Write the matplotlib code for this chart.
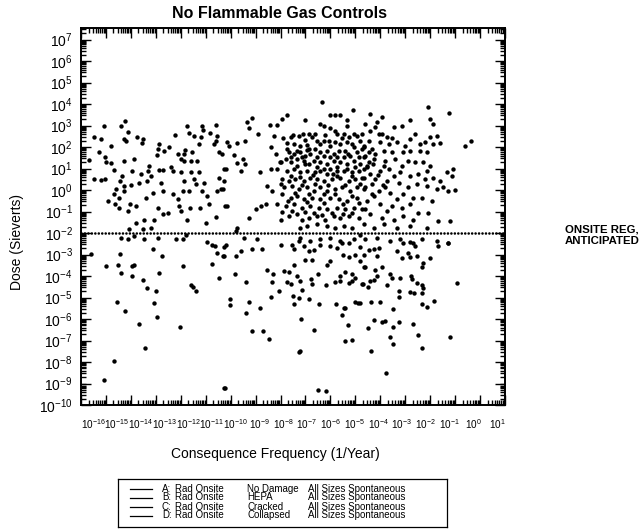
import numpy as np
import matplotlib.pyplot as plt
from matplotlib.ticker import LogLocator, NullFormatter, NullLocator

plt.rcParams['font.family'] = ['Liberation Sans', 'DejaVu Sans']
plt.rcParams['mathtext.fontset'] = 'custom'
plt.rcParams['mathtext.rm'] = 'Liberation Sans'
plt.rcParams['mathtext.it'] = 'Liberation Sans:italic'
plt.rcParams['mathtext.bf'] = 'Liberation Sans:bold'

# points as (log10 frequency, log10 dose)
upper_left_pts = [
    (-15.09, 3.0), (-14.4, 2.96), (-14.23, 3.19), (-15.47, 2.46), (-15.2, 2.38),
    (-14.27, 2.38), (-14.2, 2.27), (-14.13, 2.69), (-13.76, 2.46), (-13.53, 2.38),
    (-13.56, 2.18), (-14.8, 2.07), (-15.27, 1.75), (-15.04, 1.52), (-15.0, 1.29),
    (-14.8, 1.24), (-14.27, 1.33), (-15.67, 1.4), (-13.87, 1.44), (-14.69, 0.93),
    (-13.97, 0.9), (-15.47, 0.5), (-15.2, 0.46), (-15.04, 0.5), (-14.36, 0.65),
    (-14.43, 0.43), (-14.6, 0.04), (-14.67, -0.2), (-14.29, 0.19), (-14.27, -0.04),
    (-14.0, 0.24), (-14.91, -0.51), (-14.47, -0.35), (-14.63, -0.63), (-14.47, -0.85),
    (-14.03, -0.66), (-13.8, -0.74), (-14.13, -0.98), (-13.6, 0.77), (-13.33, 0.9),
    (-13.27, 1.13), (-13.2, 0.66), (-13.67, 0.33), (-13.36, 0.43), (-13.13, -0.12),
    (-13.4, -0.35), (-12.93, -0.82), (-13.8, -1.55), (-14.07, -1.79), (-13.53, -1.83),
    (-13.2, -1.76), (-13.47, -1.37), (-13.07, -1.37), (-12.87, 2.14), (-12.91, 1.91),
    (-12.96, 1.64), (-12.67, 1.83), (-12.47, 1.99), (-12.73, 0.94), (-12.87, 0.93),
    (-12.8, 0.35), (-12.73, -0.04), (-12.4, 1.05), (-12.33, 0.9), (-12.24, 2.56),
    (-12.0, 1.44), (-11.89, 1.36), (-11.87, 1.68), (-11.84, 1.86), (-11.53, 1.75),
    (-11.6, 1.36), (-11.33, 1.36), (-11.47, 2.53), (-11.67, 2.66), (-11.73, 2.96),
    (-11.13, 3.0), (-11.09, 2.8), (-11.27, 2.14), (-11.2, 2.46), (-12.13, 1.68),
    (-12.0, 0.82), (-11.87, 0.43), (-11.93, -0.04), (-11.6, 0.82), (-11.27, 0.86),
    (-11.67, -0.04), (-11.47, 0.5), (-11.4, 0.27), (-11.07, 0.35), (-11.13, -0.04),
    (-12.33, -0.2), (-12.13, -0.43), (-12.07, -0.74), (-12.0, -0.98), (-11.63, -0.82),
    (-11.23, -0.82), (-10.87, -0.66), (-10.93, -0.27), (-10.53, -0.04), (-10.4, 0.04),
    (-10.47, 0.58), (-10.27, 0.97), (-10.67, 2.14), (-10.6, 2.3), (-10.53, 2.53),
    (-10.6, 3.03), (-10.83, 2.64), (-10.47, 1.75), (-11.76, -1.37), (-11.0, -1.52),
    (-10.6, -1.26), (-12.51, -1.05), (-12.73, -1.1), (-14.4, -2.22), (-14.13, -2.3),
    (-13.87, -2.15), (-13.47, -2.3), (-12.93, -2.22), (-12.2, -2.3), (-11.93, -2.3),
    (-11.8, -2.1), (-10.24, -0.74),
]

lower_left_pts = [
    (-15.6, -2.98), (-15.0, -3.51), (-14.43, -2.98), (-14.51, -3.48), (-14.4, -3.84),
    (-13.97, -3.51), (-13.89, -3.48), (-13.97, -3.98), (-13.13, -2.73), (-12.76, -3.09),
    (-13.51, -4.18), (-13.37, -4.57), (-12.89, -3.87), (-13.0, -4.69), (-14.56, -5.22),
    (-14.23, -5.63), (-13.09, -5.27), (-12.96, -5.9), (-13.67, -6.25), (-12.05, -6.39),
    (-13.43, -7.35), (-14.67, -7.97), (-15.09, -8.83), (-11.93, -3.51), (-11.6, -4.44),
    (-11.49, -4.51), (-11.4, -4.69), (-10.93, -2.42), (-10.73, -2.54), (-10.63, -2.62),
    (-10.56, -2.93), (-10.27, -2.67), (-10.29, -3.09), (-10.76, -3.45), (-10.47, -4.1),
    (-10.27, -9.2),
]

upper_mid_pts = [
    (-9.13, 3.36), (-9.36, 3.16), (-9.27, 2.89), (-8.43, 3.05), (-8.16, 3.05),
    (-7.93, 3.31), (-7.73, 3.47), (-8.89, 2.61), (-8.27, 2.53), (-10.13, 2.22),
    (-10.07, 2.07), (-9.73, 2.17), (-9.44, 2.27), (-8.4, 1.99), (-10.33, 1.68),
    (-9.87, 1.64), (-9.49, 1.44), (-9.44, 1.21), (-9.76, 1.24), (-9.6, 0.9),
    (-10.2, 0.97), (-8.83, 0.85), (-8.37, 0.96), (-8.03, 1.29), (-7.0, 3.24),
    (-6.33, 4.09), (-6.0, 3.47), (-5.8, 3.47), (-5.63, 3.47), (-5.09, 3.74),
    (-5.33, 3.27), (-5.33, 3.0), (-6.4, 3.08), (-6.27, 2.96), (-6.0, 2.89),
    (-5.8, 2.77), (-5.73, 2.61), (-7.49, 2.58), (-7.27, 2.53), (-7.09, 2.61),
    (-6.87, 2.61), (-6.6, 2.61), (-6.73, 2.46), (-7.76, 2.17), (-7.47, 2.14),
    (-7.2, 2.07), (-6.93, 2.11), (-6.53, 2.3), (-6.4, 2.14), (-6.27, 2.3),
    (-5.47, 2.61), (-5.27, 2.46), (-5.07, 2.61), (-4.93, 2.53), (-6.07, 2.3),
    (-5.8, 2.22), (-5.6, 2.14), (-5.33, 2.22), (-5.13, 2.14), (-4.8, 2.3),
    (-4.67, 2.07), (-7.67, 1.75), (-7.47, 1.68), (-7.2, 1.75), (-7.0, 1.6),
    (-6.8, 1.68), (-6.6, 1.91), (-6.4, 1.75), (-6.13, 1.83), (-5.87, 1.68),
    (-5.67, 1.83), (-5.4, 1.83), (-5.2, 1.6), (-4.93, 1.75), (-4.73, 1.91),
    (-8.0, 1.29), (-7.8, 1.44), (-7.6, 1.29), (-7.33, 1.44), (-7.07, 1.36),
    (-6.87, 1.21), (-6.67, 1.36), (-6.4, 1.29), (-6.13, 1.21), (-5.87, 1.36),
    (-5.6, 1.29), (-5.33, 1.21), (-5.07, 1.36), (-4.8, 1.21), (-7.73, 0.9),
    (-7.47, 0.97), (-7.2, 0.82), (-6.93, 0.9), (-6.6, 0.82), (-6.4, 0.9),
    (-6.0, 0.97), (-5.73, 0.9), (-5.47, 0.9), (-5.13, 0.82), (-4.87, 0.9),
    (-4.67, 0.97), (-7.93, 0.5), (-7.67, 0.43), (-7.4, 0.5), (-7.07, 0.43),
    (-6.8, 0.58), (-6.53, 0.5), (-6.27, 0.43), (-5.93, 0.5), (-5.6, 0.58),
    (-5.27, 0.43), (-5.0, 0.5), (-4.73, 0.58), (-7.87, 0.12), (-7.53, 0.19),
    (-7.27, 0.04), (-6.93, 0.12), (-6.67, -0.04), (-6.4, 0.12), (-6.13, -0.04),
    (-5.8, 0.04), (-5.53, 0.12), (-5.2, -0.04), (-4.93, 0.12), (-4.67, 0.04),
    (-8.53, 0.19), (-8.33, -0.04), (-7.93, -0.2), (-7.6, -0.35), (-7.33, -0.27),
    (-7.07, -0.43), (-6.73, -0.35), (-6.4, -0.43), (-6.0, -0.35), (-5.67, -0.43),
    (-5.33, -0.51), (-4.93, -0.35), (-8.13, -0.66), (-7.8, -0.74), (-7.47, -0.66),
    (-7.13, -0.82), (-6.8, -0.74), (-6.47, -0.82), (-6.13, -0.9), (-5.73, -0.82),
    (-5.4, -0.9), (-5.07, -0.82), (-4.73, -0.9), (-8.6, -0.66), (-8.8, -0.74),
    (-9.0, -0.9), (-10.13, -0.74), (-9.27, -1.29), (-8.0, -1.37), (-7.67, -1.21),
    (-7.33, -1.13), (-7.13, -1.37), (-6.87, -1.29), (-6.53, -1.21), (-6.2, -1.37),
    (-5.87, -1.21), (-5.6, -1.29), (-5.27, -1.21), (-4.87, -1.29), (-7.2, -1.76),
    (-6.93, -1.68), (-6.53, -1.6), (-6.13, -1.68), (-5.8, -1.76), (-5.47, -1.68),
    (-5.13, -1.76), (-9.73, -1.76), (-9.8, -1.91), (-7.2, -2.22), (-6.8, -2.38),
    (-6.4, -2.3), (-6.0, -2.22), (-5.6, -2.38), (-5.07, -2.3), (-4.8, -2.07),
    (-10.2, -2.54), (-8.93, -2.3), (-9.47, -2.22), (-10.27, 0.43), (-10.29, 0.04),
    (-7.57, 1.52), (-7.13, 1.52), (-6.53, 1.52), (-6.0, 1.52), (-5.47, 1.52),
    (-4.87, 1.52), (-7.6, 0.66), (-7.2, 0.61), (-6.69, 0.71), (-6.13, 0.74),
    (-5.73, 0.66), (-5.13, 0.66), (-7.4, -0.12), (-6.87, -0.16), (-6.27, -0.2),
    (-5.8, -0.2), (-5.13, -0.27), (-7.73, 1.91), (-6.87, 1.91), (-6.0, 2.07),
    (-5.07, 1.99), (-7.33, 1.13), (-6.53, 1.08), (-5.73, 1.08), (-5.0, 1.08),
    (-7.53, -0.98), (-6.67, -1.05), (-5.93, -1.05), (-5.13, -1.05),
    (-7.9, 2.4), (-7.6, 2.45), (-7.0, 2.35), (-6.2, 2.55), (-5.55, 2.4),
    (-8.2, 1.7), (-7.35, 1.8), (-6.95, 1.85), (-6.25, 1.6), (-5.75, 1.55),
    (-5.3, 1.7), (-4.6, 1.6), (-8.15, 1.0), (-7.0, 1.2), (-6.25, 1.0),
    (-5.9, 0.75), (-5.35, 1.0), (-4.55, 1.1), (-8.0, 0.3), (-7.15, 0.25),
    (-6.6, 0.3), (-6.1, 0.25), (-5.4, 0.25), (-4.8, 0.3), (-7.7, -0.5),
    (-6.95, -0.55), (-6.25, -0.6), (-5.5, -0.65), (-4.85, -0.6), (-7.95, -1.0),
    (-7.0, -1.0), (-6.35, -1.15), (-5.5, -1.1),
]

lower_mid_pts = [
    (-10.27, -3.09), (-9.8, -3.09), (-9.6, -2.82), (-9.83, -3.91), (-9.13, -2.73),
    (-8.73, -2.73), (-8.0, -2.57), (-7.56, -2.54), (-7.47, -2.73), (-7.27, -2.39),
    (-7.07, -2.62), (-6.87, -2.82), (-6.67, -2.77), (-6.4, -2.54), (-6.0, -2.62),
    (-5.73, -2.7), (-5.53, -2.46), (-5.27, -2.46), (-8.53, -3.71), (-8.29, -3.91),
    (-7.87, -3.76), (-7.67, -3.82), (-7.44, -3.48), (-7.0, -3.24), (-6.73, -3.24),
    (-6.51, -3.9), (-6.13, -3.48), (-6.03, -3.32), (-5.49, -3.01), (-5.27, -3.13),
    (-5.0, -3.01), (-4.8, -3.32), (-4.67, -3.56), (-5.4, -3.79), (-5.13, -3.9),
    (-5.0, -4.07), (-5.6, -4.02), (-9.4, -4.3), (-8.33, -4.29), (-8.07, -4.69),
    (-7.76, -4.26), (-7.6, -4.38), (-7.33, -4.02), (-7.2, -4.23), (-7.13, -4.65),
    (-6.77, -4.13), (-6.73, -4.38), (-6.16, -4.44), (-5.8, -4.29), (-5.6, -4.23),
    (-5.27, -4.34), (-5.13, -4.23), (-4.69, -4.38), (-10.03, -5.07), (-10.03, -5.35),
    (-9.27, -5.19), (-8.4, -4.96), (-7.49, -4.91), (-7.27, -5.01), (-7.44, -5.3),
    (-6.87, -5.07), (-6.47, -5.32), (-5.76, -5.3), (-5.47, -5.5), (-5.4, -5.47),
    (-5.0, -5.19), (-4.91, -5.27), (-9.4, -5.74), (-8.83, -5.5), (-7.17, -6.0),
    (-5.53, -5.82), (-5.29, -6.29), (-9.13, -6.57), (-8.71, -6.55), (-8.47, -6.94),
    (-6.67, -6.49), (-5.4, -7.03), (-5.13, -6.96), (-7.2, -7.49), (-7.27, -7.53),
    (-10.24, -9.2), (-6.51, -9.3), (-6.16, -9.37),
]

upper_right_pts = [
    (-2.07, 3.86), (-1.23, 3.58), (-4.4, 3.55), (-3.93, 3.42), (-4.13, 3.16),
    (-4.6, 3.08), (-3.47, 2.92), (-3.13, 3.0), (-2.8, 3.24), (-2.0, 3.31),
    (-1.87, 3.08), (-4.73, 2.61), (-4.4, 2.77), (-4.07, 2.61), (-3.73, 2.46),
    (-4.0, 2.22), (-3.33, 2.22), (-2.8, 2.38), (-2.6, 2.61), (-2.4, 2.14),
    (-2.2, 2.22), (-2.0, 2.46), (-1.73, 2.53), (-1.89, 2.14), (-1.6, 2.17),
    (-4.67, 1.99), (-4.33, 1.91), (-3.87, 1.83), (-3.53, 1.75), (-3.07, 1.75),
    (-2.8, 1.83), (-2.4, 1.83), (-2.13, 1.75), (-0.6, 2.07), (-0.37, 2.27),
    (-4.67, 1.52), (-4.27, 1.44), (-3.8, 1.36), (-3.4, 1.44), (-2.87, 1.36),
    (-2.6, 1.29), (-2.27, 1.29), (-2.0, 1.13), (-2.13, 0.9), (-4.53, 1.05),
    (-4.0, 0.9), (-3.67, 0.97), (-3.2, 0.82), (-2.8, 0.66), (-2.47, 0.74),
    (-2.2, 0.5), (-1.87, 0.58), (-1.6, 0.43), (-1.33, 0.82), (-1.07, 0.97),
    (-1.13, 0.66), (-4.67, 0.58), (-4.2, 0.5), (-3.73, 0.43), (-3.27, 0.35),
    (-2.87, 0.12), (-2.53, 0.27), (-2.13, 0.19), (-1.73, 0.04), (-1.47, 0.12),
    (-1.27, -0.04), (-1.0, 0.01), (-4.6, 0.12), (-4.07, -0.04), (-3.6, -0.12),
    (-3.07, -0.2), (-2.67, -0.35), (-2.33, -0.35), (-1.93, -0.51), (-4.53, -0.51),
    (-4.0, -0.66), (-3.53, -0.74), (-3.13, -0.82), (-2.8, -0.66), (-2.47, -1.05),
    (-2.07, -1.05), (-4.4, -1.13), (-3.93, -1.29), (-3.47, -1.37), (-3.07, -1.21),
    (-2.67, -1.37), (-4.67, -1.6), (-4.27, -1.76), (-3.87, -1.6), (-3.33, -1.76),
    (-2.8, -1.68), (-2.13, -1.76), (-1.67, -1.44), (-1.2, -1.44), (-4.6, -2.3),
    (-4.13, -2.22), (-3.6, -2.38), (-3.2, -2.3), (-2.67, -2.46), (-2.33, -2.3),
    (-1.73, -2.38), (-1.27, -2.46), (-4.47, 2.3), (-4.2, 1.68), (-4.47, 1.29),
    (-3.87, 1.13), (-4.4, 0.74), (-3.47, 0.66), (-4.33, 0.27), (-3.8, 0.12),
    (-4.27, -0.27), (-3.33, -0.43), (-3.73, -0.98), (-4.6, -0.9), (-3.13, 1.13),
    (-3.0, 2.07), (-3.67, 2.14), (-4.2, 2.92), (-4.45, 1.75), (-4.3, 1.2),
    (-4.1, 0.7), (-3.9, 0.25), (-4.35, -0.2), (-3.95, 2.6), (-3.55, 2.4),
]

lower_right_pts = [
    (-4.8, -2.67), (-4.47, -2.77), (-4.27, -2.73), (-4.07, -2.7), (-4.67, -3.01),
    (-4.13, -3.09), (-4.6, -3.56), (-4.2, -3.71), (-3.93, -3.56), (-3.33, -2.85),
    (-3.13, -3.17), (-2.8, -3.13), (-2.87, -2.93), (-2.53, -3.09), (-2.27, -3.4),
    (-2.33, -3.56), (-2.0, -3.17), (-3.07, -2.46), (-2.8, -2.42), (-2.6, -2.62),
    (-1.67, -2.62), (-1.27, -2.46), (-4.73, -4.38), (-4.51, -4.49), (-4.4, -4.23),
    (-4.27, -4.18), (-4.13, -4.02), (-3.73, -4.44), (-3.53, -4.1), (-3.6, -3.91),
    (-3.2, -4.1), (-2.77, -4.02), (-2.73, -4.13), (-2.53, -4.34), (-2.33, -4.41),
    (-2.27, -4.57), (-2.33, -4.77), (-3.27, -4.69), (-3.23, -4.96), (-2.8, -4.76),
    (-2.64, -4.8), (-0.93, -4.34), (-4.8, -5.27), (-4.36, -5.19), (-4.03, -5.19),
    (-3.49, -5.54), (-2.33, -5.3), (-2.13, -5.43), (-1.84, -5.16), (-4.24, -6.05),
    (-3.93, -6.13), (-3.8, -6.08), (-3.27, -6.16), (-4.51, -6.44), (-3.51, -6.36),
    (-2.67, -6.25), (-2.47, -6.75), (-3.6, -6.83), (-3.51, -7.14), (-2.33, -7.35),
    (-1.2, -6.83), (-4.37, -7.49), (-3.76, -8.52),
]

onsite_reg_dose = 1e-2
x_label_exps = list(range(-16, 2))
y_label_exps = list(range(-10, 8))
legend_rows = [
    ('A:', 'Rad Onsite', 'No Damage', 'All Sizes Spontaneous'),
    ('B:', 'Rad Onsite', 'HEPA', 'All Sizes Spontaneous'),
    ('C:', 'Rad Onsite', 'Cracked', 'All Sizes Spontaneous'),
    ('D:', 'Rad Onsite', 'Collapsed', 'All Sizes Spontaneous'),
]

pts = np.array(upper_left_pts + lower_left_pts + upper_mid_pts + lower_mid_pts
               + upper_right_pts + lower_right_pts)
freq = 10.0 ** pts[:, 0]
dose = 10.0 ** pts[:, 1]

fig = plt.figure(figsize=(6.42, 5.31), dpi=100)
ax = fig.add_axes([81 / 642, 1 - 405 / 531, 424 / 642, 377 / 531])
ax.set_xscale('log')
ax.set_yscale('log')
ax.set_xlim(1e-16, 1e1)
ax.set_ylim(1e-10, 10 ** 7.54)

ax.axhline(onsite_reg_dose, color='black', lw=1.9, ls=(0, (0.01, 1.3)),
           dash_capstyle='round', zorder=2)
ax.scatter(freq, dose, s=10, color='black', linewidths=0, zorder=3)

ax.xaxis.set_major_locator(LogLocator(base=10, numticks=40))
ax.xaxis.set_minor_locator(LogLocator(base=10, subs=np.arange(2, 10), numticks=40))
ax.xaxis.set_major_formatter(NullFormatter())
ax.xaxis.set_minor_formatter(NullFormatter())
ax.set_yticks(10.0 ** np.array(y_label_exps), [rf'$10^{{{e}}}$' for e in y_label_exps])
ax.yaxis.set_minor_locator(LogLocator(base=10, subs=np.arange(2, 10), numticks=40))
ax.yaxis.set_minor_formatter(NullFormatter())
ax.tick_params(which='both', direction='in', top=True, right=True, width=1.0)
ax.tick_params(which='major', length=7)
ax.tick_params(which='minor', length=3.5)
ax.tick_params(axis='y', labelsize=10, pad=6)
for sp in ax.spines.values():
    sp.set_linewidth(1.4)

# crowded frequency labels, spread a little tighter than the decade ticks
sec = ax.secondary_xaxis('bottom')
sec.set_xticks(10.0 ** np.linspace(-15.52, 0.68, len(x_label_exps)),
               [rf'$10^{{{e}}}$' for e in x_label_exps])
sec.xaxis.set_minor_locator(NullLocator())
sec.tick_params(which='both', length=0, labelsize=7.2, pad=9)
sec.spines['bottom'].set_visible(False)

fig.text(279 / 642, 1 - 14 / 531, 'No Flammable Gas Controls', ha='center', va='center',
         fontsize=11.5, fontweight='bold')
fig.text(275 / 642, 1 - 454 / 531, 'Consequence Frequency (1/Year)', ha='center',
         va='center', fontsize=10)
fig.text(17 / 642, 1 - 242 / 531, 'Dose (Sieverts)', ha='center', va='center',
         rotation=90, fontsize=10)
fig.text(565 / 642, 1 - 235 / 531, 'ONSITE REG,\nANTICIPATED', ha='left', va='center',
         fontsize=8.2, fontweight='bold', linespacing=1.25)

# legend box
lax = fig.add_axes([118 / 642, 1 - 527 / 531, 329 / 642, 48 / 531])
lax.set_xlim(0, 329)
lax.set_ylim(48, 0)
lax.set_xticks([])
lax.set_yticks([])
for sp in lax.spines.values():
    sp.set_linewidth(0.9)
for i, (tag, kind, state, size) in enumerate(legend_rows):
    y = 9.5 + i * 9
    lax.plot([12, 34], [y, y], color='black', lw=0.9)
    lax.text(44, y, tag, fontsize=7, va='center')
    lax.text(57, y, kind, fontsize=7, va='center')
    lax.text(129, y, state, fontsize=7, va='center')
    lax.text(190, y, size, fontsize=7, va='center')

fig.savefig('out.png', dpi=100)
